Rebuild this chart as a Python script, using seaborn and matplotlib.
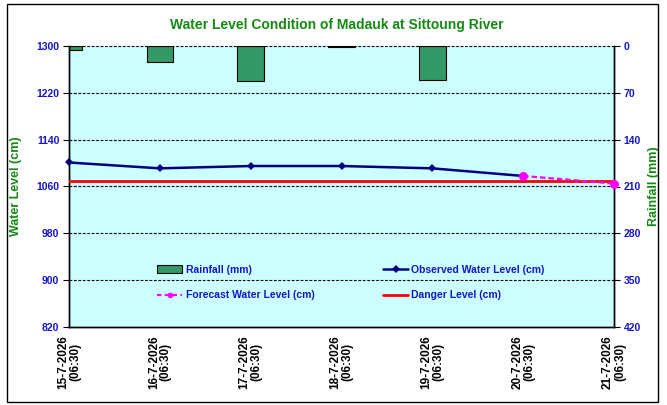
import pandas as pd
import matplotlib
matplotlib.use("Agg")
import matplotlib.pyplot as plt
import seaborn as sns
from matplotlib.lines import Line2D
from matplotlib.patches import Patch, Rectangle

# Data
dates = ["15-7-2026", "16-7-2026", "17-7-2026", "18-7-2026",
         "19-7-2026", "20-7-2026", "21-7-2026"]
time_label = "(06:30)"
rainfall = [6, 24, 53, 1, 51, None, None]
observed = [1101, 1091, 1095, 1095, 1091, 1078, None]
forecast = [None, None, None, None, None, 1078, 1065]
danger = [1070, 1070, 1070, 1070, 1070, 1070, 1070]

left_ticks = [820, 900, 980, 1060, 1140, 1220, 1300]
right_ticks = [0, 70, 140, 210, 280, 350, 420]

df = pd.DataFrame({
    "pos": range(len(dates)),
    "rainfall": rainfall,
    "observed": observed,
    "forecast": forecast,
    "danger": danger,
})

sns.set_theme(style="white")
plt.rcParams["font.family"] = ["Liberation Sans", "DejaVu Sans"]

blue = "#1515C8"
green = "#138A13"

fig = plt.figure(figsize=(6.67, 4.05), dpi=100)
fig.patch.set_facecolor("white")
fig.patches.append(Rectangle((7 / 667, 3 / 405), 651 / 667, 398 / 405,
                             transform=fig.transFigure, fill=False,
                             edgecolor="black", linewidth=1.0))

ax = fig.add_axes([69 / 667, 1 - 327 / 405, 545 / 667, 281 / 405])
ax2 = ax.twinx()

# rainfall bars hanging from the top (right axis inverted)
sns.barplot(data=df.dropna(subset=["rainfall"]), x="pos", y="rainfall",
            ax=ax2, native_scale=True, color="#339966", edgecolor="black",
            linewidth=0.8, width=0.29, saturation=1, errorbar=None, zorder=2)
ax2.set_ylim(420, 0)
ax2.set_yticks(right_ticks)

# grid lines (the top one replaces the top border)
for t in left_ticks[1:]:
    ax.axhline(t, color="black", linestyle=(0, (2.5, 1.5)), linewidth=0.8,
               zorder=1, clip_on=False)

sns.lineplot(data=df, x="pos", y="danger", ax=ax, color="#FF0000",
             linewidth=2.0, zorder=3)
sns.lineplot(data=df, x="pos", y="observed", ax=ax, color="#000080",
             linewidth=1.8, marker="D", markersize=4.5, markeredgewidth=0,
             zorder=4, clip_on=False)
sns.lineplot(data=df, x="pos", y="forecast", ax=ax, color="#FF00FF",
             linewidth=1.6, linestyle=(0, (2.5, 1.3)), marker="o",
             markersize=6.5, markeredgewidth=0, zorder=5, clip_on=False)

ax.set_ylim(820, 1300)
ax.set_yticks(left_ticks)
ax.set_xlim(0, len(dates) - 1)
ax.set_xticks(range(len(dates)))
ax.set_xticklabels([d + "\n" + time_label for d in dates], rotation=90,
                   multialignment="center", color=blue, fontsize=8.5,
                   fontweight="bold", linespacing=1.0)
ax2.set_xlim(0, len(dates) - 1)

ax.set_zorder(ax2.get_zorder() + 1)
ax.patch.set_visible(False)
ax2.patch.set_visible(True)
ax2.patch.set_facecolor("#CCFFFF")

for a in (ax, ax2):
    for s in a.spines.values():
        s.set_color("black")
        s.set_linewidth(1.0)
    a.spines["top"].set_visible(False)
    a.tick_params(axis="y", direction="out", length=4, width=0.8,
                  colors="black", labelcolor=blue, labelsize=7.5, pad=3)
    a.tick_params(axis="x", direction="out", length=4, width=0.8,
                  colors="black", pad=2)
for lbl in ax.get_yticklabels() + ax2.get_yticklabels():
    lbl.set_fontweight("bold")
ax2.tick_params(axis="x", bottom=False, labelbottom=False)

ax.set_xlabel("")
ax.set_ylabel("Water Level (cm)", color=green, fontsize=9,
              fontweight="bold", labelpad=10)
ax2.set_ylabel("Rainfall (mm)", color=green, fontsize=9,
               fontweight="bold", labelpad=5)

fig.text(337 / 667, 1 - 25 / 405,
         "Water Level Condition of Madauk at Sittoung River",
         ha="center", va="center", color=green, fontsize=10, fontweight="bold")

handles = [
    Patch(facecolor="#339966", edgecolor="black", linewidth=0.8),
    Line2D([], [], color="#FF00FF", linestyle=(0, (2, 1.5)), marker="o",
           markersize=4, linewidth=1.6, markeredgewidth=0),
    Line2D([], [], color="#000080", marker="D", markersize=4, linewidth=1.8,
           markeredgewidth=0),
    Line2D([], [], color="#FF0000", linewidth=2.0),
]
labels = ["Rainfall (mm)", "Forecast Water Level (cm)",
          "Observed Water Level (cm)", "Danger Level (cm)"]
leg = ax.legend(handles, labels, ncol=2, frameon=False, loc="lower left",
                bbox_to_anchor=(0.145, 0.062), handlelength=2.4,
                handletextpad=0.3, columnspacing=6.6, labelspacing=1.5,
                prop={"weight": "bold", "size": 7.5})
for t in leg.get_texts():
    t.set_color(blue)

fig.savefig("out.png", dpi=100, facecolor="white")
